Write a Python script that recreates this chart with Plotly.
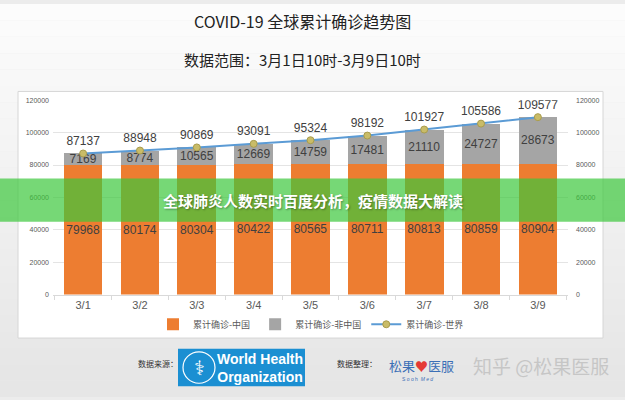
import plotly.graph_objects as go

# data (cumulative confirmed cases, 10:00 each day)
dates = ["3/1", "3/2", "3/3", "3/4", "3/5", "3/6", "3/7", "3/8", "3/9"]
china = [79968, 80174, 80304, 80422, 80565, 80711, 80813, 80859, 80904]
outside_china = [7169, 8774, 10565, 12669, 14759, 17481, 21110, 24727, 28673]
world = [87137, 88948, 90869, 93091, 95324, 98192, 101927, 105586, 109577]

y_ticks = [0, 20000, 40000, 60000, 80000, 100000, 120000]

W, H = 625, 400
CJK = "Noto Sans CJK SC"
NUM = "Liberation Sans, Noto Sans CJK SC"


def px(x):
    return x / W


def py(y):
    # pixel from top -> paper coordinate
    return 1 - y / H


fig = go.Figure()

fig.add_trace(go.Bar(
    x=dates, y=china, name="累计确诊-中国",
    marker=dict(color="#ED7D31", line=dict(width=0)),
    text=[str(v) for v in china], textposition="inside",
    insidetextanchor="middle", textangle=0, constraintext="none",
    textfont=dict(family=NUM, size=12, color="#404040"),
    hoverinfo="skip",
))
fig.add_trace(go.Bar(
    x=dates, y=outside_china, name="累计确诊-非中国",
    marker=dict(color="#A5A5A5", line=dict(width=0)),
    text=[str(v) for v in outside_china], textposition="inside",
    insidetextanchor="middle", textangle=0, constraintext="none",
    textfont=dict(family=NUM, size=12, color="#404040"),
    hoverinfo="skip",
))
fig.add_trace(go.Scatter(
    x=dates, y=world, name="累计确诊-世界", yaxis="y2",
    mode="lines+markers+text",
    line=dict(color="#5B9BD5", width=2),
    marker=dict(color="#C9BC68", size=7, line=dict(color="#A99C4C", width=1)),
    text=[str(v) for v in world], textposition="top center",
    textfont=dict(family=NUM, size=12, color="#404040"),
    hoverinfo="skip",
))

shapes = []
# soft grey slide background, lighter towards the top
n = 24
for i in range(n):
    t = i / (n - 1)
    c = int(252 - 22 * t)
    shapes.append(dict(type="rect", xref="paper", yref="paper", layer="below",
                       x0=0, x1=1, y0=1 - (i + 1) / n, y1=1 - i / n,
                       fillcolor="rgb(%d,%d,%d)" % (c, c, c), line=dict(width=0)))
# white chart panel
shapes.append(dict(type="rect", xref="paper", yref="paper", layer="below",
                   x0=px(18), x1=px(603), y0=py(340), y1=py(89),
                   fillcolor="white", line=dict(color="#D6D6D6", width=1)))
# green banner across the middle
shapes.append(dict(type="rect", xref="paper", yref="paper", layer="above",
                   x0=0, x1=1, y0=py(221.7), y1=py(177.7),
                   fillcolor="rgba(60,200,60,0.7)", line=dict(width=0)))
# WHO logo box
shapes.append(dict(type="rect", xref="paper", yref="paper", layer="above",
                   x0=px(178), x1=px(305), y0=py(389), y1=py(351),
                   fillcolor="#1B8FD2", line=dict(width=0)))
shapes.append(dict(type="circle", xref="paper", yref="paper", layer="above",
                   x0=px(183), x1=px(215), y0=py(386), y1=py(354),
                   line=dict(color="white", width=1.2)))

annotations = [
    dict(text="COVID-19 全球累计确诊趋势图", x=px(302), y=py(17),
         font=dict(family=CJK, size=16, color="#222222")),
    dict(text="数据范围：3月1日10时-3月9日10时", x=px(302), y=py(56),
         font=dict(family=CJK, size=15, color="#222222")),
    dict(text="<b>全球肺炎人数实时百度分析，疫情数据大解读</b>", x=0.5, y=py(200.5),
         font=dict(family=CJK, size=15, color="white",
                   shadow="1px 1px 2px rgba(0,0,0,0.35)")),
    dict(text="数据来源：", x=px(158), y=py(366),
         font=dict(family=CJK, size=8, color="#333333")),
    dict(text="⚕", x=px(199), y=py(370),
         font=dict(family="DejaVu Sans", size=20, color="white")),
    dict(text="<b>World Health<br>Organization</b>", x=px(260), y=py(370),
         font=dict(family="Liberation Sans Narrow, Liberation Sans", size=14, color="white")),
    dict(text="数据整理：", x=px(357), y=py(366),
         font=dict(family=CJK, size=8, color="#333333")),
    dict(text="松果<span style='color:#E53935'>♥</span>医服", x=px(421), y=py(368),
         font=dict(family=CJK, size=13, color="#3B6FB6")),
    dict(text="S o o h  <i>M e d</i>", x=px(418), y=py(382),
         font=dict(family=NUM, size=5, color="#3B6FB6")),
    dict(text="知乎 @松果医服", x=px(541), y=py(368),
         font=dict(family=CJK, size=19, color="#C6C6C6")),
]
for a in annotations:
    a.update(xref="paper", yref="paper", showarrow=False, xanchor="center", yanchor="middle")

fig.update_layout(
    width=W, height=H,
    margin=dict(l=0, r=0, t=0, b=0),
    paper_bgcolor="#ECECEC",
    plot_bgcolor="white",
    barmode="stack",
    bargap=0.32,
    showlegend=True,
    legend=dict(orientation="h", x=0.4976, xanchor="center", y=py(326), yanchor="middle",
                font=dict(family=CJK, size=9, color="#595959"),
                itemwidth=30, traceorder="normal", bgcolor="rgba(0,0,0,0)"),
    xaxis=dict(domain=[px(53), px(568)], type="category",
               showline=True, linecolor="#D9D9D9", linewidth=1,
               ticks="outside", tickson="boundaries", ticklen=4, tickcolor="#D9D9D9",
               tickfont=dict(family=NUM, size=11, color="#595959"), showgrid=False),
    yaxis=dict(domain=[py(295.7), py(98)], range=[0, 120000], tickvals=y_ticks,
               tickformat="d", showgrid=True, gridcolor="#E4E4E4", gridwidth=1,
               zeroline=False, showline=False,
               tickfont=dict(family=NUM, size=7, color="#595959"), ticklabelstandoff=3),
    yaxis2=dict(domain=[py(295.7), py(98)], range=[0, 120000], tickvals=y_ticks,
                tickformat="d", overlaying="y", side="right", anchor="x",
                showgrid=False, zeroline=False, showline=False,
                tickfont=dict(family=NUM, size=7, color="#595959"), ticklabelstandoff=7),
    shapes=shapes,
    annotations=annotations,
)

# drop the browser's default body margin so the 625x400 figure fills the window
fig.write_html("out.html", config={"displayModeBar": False},
               post_script="document.body.style.margin='0';"
                           "document.body.style.overflow='hidden';")
